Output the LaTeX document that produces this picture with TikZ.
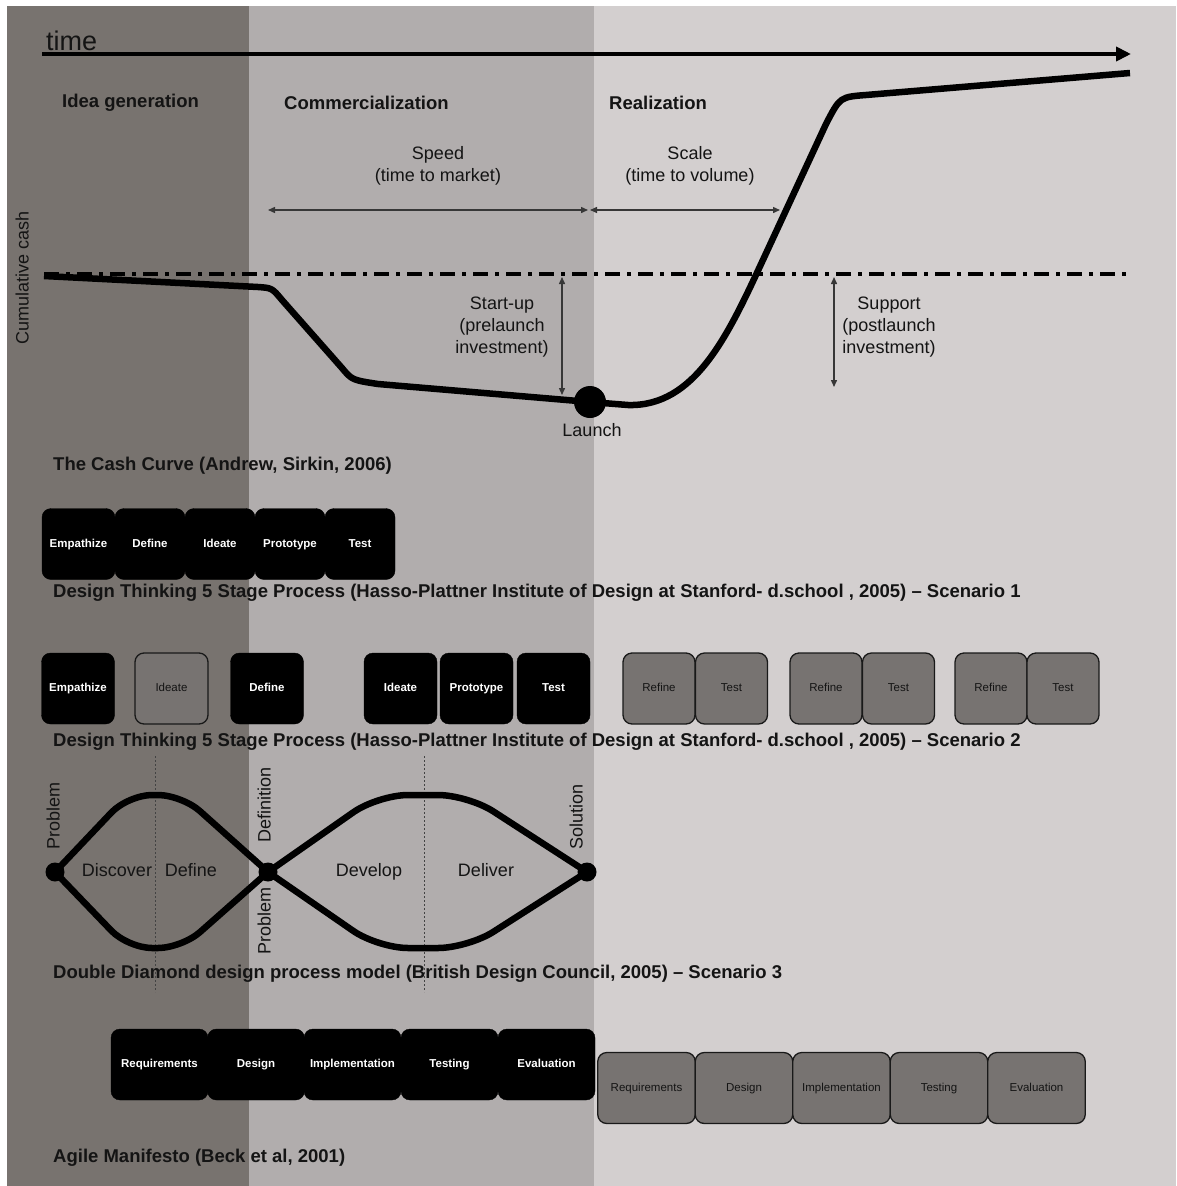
\documentclass[tikz,border=0pt]{standalone}
\usepackage{fontspec}
\setmainfont{Liberation Sans}
\usetikzlibrary{arrows.meta}
\definecolor{banddark}{HTML}{78736F}
\definecolor{bandmid}{HTML}{B1ADAD}
\definecolor{bandlight}{HTML}{D3CFCF}
\definecolor{boxgray}{HTML}{777371}
\definecolor{ink}{HTML}{141414}

\begin{document}
\begin{tikzpicture}[x=1pt,y=-1pt,
  every node/.style={inner sep=0pt, text=ink},
  phase/.style={font=\fontsize{18.5}{22}\selectfont\bfseries, anchor=west},
  caption/.style={font=\fontsize{18.5}{22}\selectfont\bfseries, anchor=west},
  note/.style={font=\fontsize{18}{22}\selectfont, align=center},
  word/.style={font=\fontsize{18}{22}\selectfont, text height=13pt, text depth=4pt},
  sidelabel/.style={font=\fontsize{18}{22}\selectfont, rotate=90, text height=13pt, text depth=4pt},
  stage/.style={rounded corners=9pt, minimum height=71pt, minimum width=#1,
    text height=8.5pt, text depth=2.5pt},
  blackstage/.style={stage=#1, fill=black, draw=black, text=white,
    font=\fontsize{11.5}{13}\selectfont\bfseries},
  graystage/.style={stage=#1, fill=boxgray, draw=black!90, line width=1.3pt,
    text=ink, font=\fontsize{11.5}{13}\selectfont},
  span/.style={line width=1.4pt, draw=ink!85, >={Triangle[length=7pt,width=6pt]}, <->},
  curve/.style={line width=6.5pt, line join=round},
  dot/.style={circle, fill=black, minimum size=#1},
  guide/.style={line width=0.6pt, draw=ink!80, dash pattern=on 2pt off 2pt},
  axisdash/.style={line width=4pt, dash pattern=on 15pt off 7pt on 4pt off 7pt},
]
\useasboundingbox (0,0) rectangle (1176,1186);

% phase bands
\fill[white] (0,0) rectangle (1176,1186);
\fill[banddark] (7,6) rectangle (249,1186);
\fill[bandmid] (249,6) rectangle (594,1186);
\fill[bandlight] (594,6) rectangle (1176,1186);

% time axis
\node[font=\fontsize{27}{30}\selectfont, anchor=base west] (timelbl) at (46,50) {time};
\coordinate (t0) at (42,54);
\coordinate (t1) at (1131,54);
\draw[line width=4pt, -{Triangle[length=15pt,width=14pt]}] (t0) -- (t1);

% phase headings
\node[phase] (ph1) at (62,103) {Idea generation};
\node[phase] (ph2) at (284,103) {Commercialization};
\node[phase] (ph3) at (609,103) {Realization};

% zero-cash line
\coordinate (z0) at (44,274);
\coordinate (z1) at (1130,274);
\draw[axisdash] (z0) -- (z1);

\node[sidelabel] (ylbl) at (24,278) {Cumulative cash};

% speed and scale spans
\node[note] (speed) at (438,166) {Speed\\(time to market)};
\node[note] (scale) at (690,166) {Scale\\(time to volume)};
\coordinate (sp0) at (268,210);
\coordinate (sp1) at (588,210);
\coordinate (sc0) at (590,210);
\coordinate (sc1) at (780,210);
\draw[span] (sp0) -- (sp1);
\draw[span] (sc0) -- (sc1);

% cash curve
\node[dot=32pt] (launch) at (590,402) {};
\draw[curve] (44,276) -- (258,287) .. controls (272,288) .. (282,300)
  -- (342,368) .. controls (352,380) .. (378,384) -- (launch.center)
  -- (628,405) .. controls (695,407) and (728,335) .. (762,262)
  -- (826,124) .. controls (840,97) .. (866,95) -- (1130,73);
\node[word] (launchlbl) at (592,432) {Launch};

% investment spans
\coordinate (su0) at (562,277);
\coordinate (su1) at (562,395);
\coordinate (po0) at (834,277);
\coordinate (po1) at (834,387);
\draw[span] (su0) -- (su1);
\draw[span] (po0) -- (po1);
\node[note] (startup) at (502,327) {Start-up\\(prelaunch\\investment)};
\node[note] (support) at (889,327) {Support\\(postlaunch\\investment)};

\node[caption] (cap0) at (53,466) {The Cash Curve (Andrew, Sirkin, 2006)};

% design thinking, scenario 1
\node[blackstage=73pt] (a1) at (78.5,544) {Empathize};
\node[blackstage=70pt] (a2) at (150,544) {Define};
\node[blackstage=70pt] (a3) at (220,544) {Ideate};
\node[blackstage=70pt] (a4) at (290,544) {Prototype};
\node[blackstage=70pt] (a5) at (360,544) {Test};
\node[caption] (cap1) at (53,593) {Design Thinking 5 Stage Process (Hasso-Plattner Institute of Design at Stanford- d.school , 2005) -- Scenario 1};

% design thinking, scenario 2
\node[blackstage=73pt] (b1) at (78,688.5) {Empathize};
\node[graystage=73pt] (b2) at (171.5,688.5) {Ideate};
\node[blackstage=73pt] (b3) at (267,688.5) {Define};
\node[blackstage=73pt] (b4) at (400.5,688.5) {Ideate};
\node[blackstage=73pt] (b5) at (476.5,688.5) {Prototype};
\node[blackstage=73pt] (b6) at (553.5,688.5) {Test};
\node[graystage=72pt] (r1) at (659,688.5) {Refine};
\node[graystage=72pt] (r2) at (731.5,688.5) {Test};
\node[graystage=72pt] (r3) at (826,688.5) {Refine};
\node[graystage=72pt] (r4) at (898.5,688.5) {Test};
\node[graystage=72pt] (r5) at (991,688.5) {Refine};
\node[graystage=72pt] (r6) at (1063,688.5) {Test};
\node[caption] (cap2) at (53,742) {Design Thinking 5 Stage Process (Hasso-Plattner Institute of Design at Stanford- d.school , 2005) -- Scenario 2};

% double diamond
\coordinate (g0) at (155,756);
\coordinate (g1) at (155,992);
\coordinate (g2) at (424,756);
\coordinate (g3) at (424,992);
\draw[guide] (g0) -- (g1);
\draw[guide] (g2) -- (g3);

\node[dot=19pt] (d1) at (55,872) {};
\node[dot=19pt] (d2) at (268,872) {};
\node[dot=19pt] (d3) at (587,872) {};
\draw[curve, rounded corners=24pt] (d1.center) -- (128,795) -- (182,795) -- (d2.center);
\draw[curve, rounded corners=24pt] (d1.center) -- (128,948) -- (182,948) -- (d2.center);
\draw[curve, rounded corners=30pt] (d2.center) -- (378,795) -- (468,795) -- (d3.center);
\draw[curve, rounded corners=30pt] (d2.center) -- (378,948) -- (468,948) -- (d3.center);

\node[sidelabel] (lp1) at (55,816) {Problem};
\node[sidelabel] (ldef) at (266,805) {Definition};
\node[sidelabel] (lp2) at (266,921) {Problem};
\node[sidelabel] (lsol) at (578,817) {Solution};
\node[word] (disc) at (117,872) {Discover};
\node[word] (defn) at (191,872) {Define};
\node[word] (dev) at (369,872) {Develop};
\node[word] (del) at (486,872) {Deliver};
\node[caption] (cap3) at (53,974) {Double Diamond design process model (British Design Council, 2005) -- Scenario 3};

% agile
\node[blackstage=97pt] (k1) at (159.5,1064.5) {Requirements};
\node[blackstage=97pt] (k2) at (256,1064.5) {Design};
\node[blackstage=97pt] (k3) at (352.5,1064.5) {Implementation};
\node[blackstage=97pt] (k4) at (449.5,1064.5) {Testing};
\node[blackstage=97pt] (k5) at (546.5,1064.5) {Evaluation};
\node[graystage=97.5pt] (m1) at (646.5,1088) {Requirements};
\node[graystage=97.5pt] (m2) at (744,1088) {Design};
\node[graystage=97.5pt] (m3) at (841.5,1088) {Implementation};
\node[graystage=97.5pt] (m4) at (939,1088) {Testing};
\node[graystage=97.5pt] (m5) at (1036.5,1088) {Evaluation};
\node[caption] (cap4) at (53,1158) {Agile Manifesto (Beck et al, 2001)};
\end{tikzpicture}
\end{document}
